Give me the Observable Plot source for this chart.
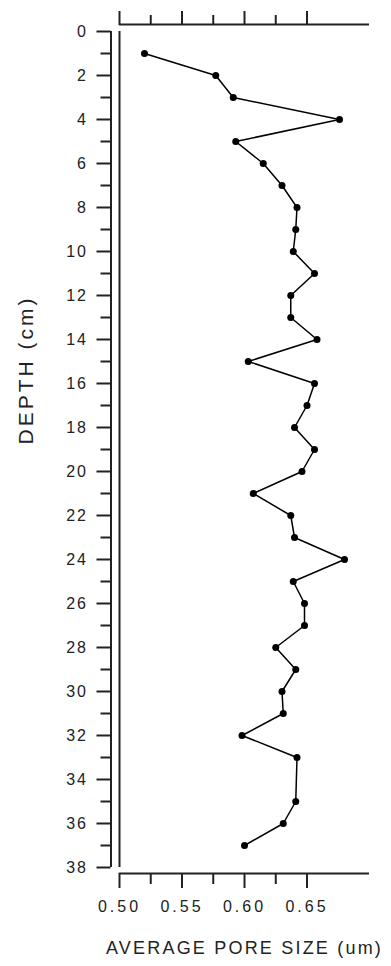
<!DOCTYPE html>
<html><head><meta charset="utf-8">
<script src="https://cdn.jsdelivr.net/npm/d3@7"></script>
<script src="https://cdn.jsdelivr.net/npm/@observablehq/plot@0.6"></script>
<style>
body{margin:0;background:#fff}
g[aria-label="x-axis tick label"]{letter-spacing:3px}
g[aria-label="y-axis tick label"]{letter-spacing:2px}
</style></head><body><div id="chart"></div>
<script>
// Data
const depth = [1,2,3,4,5,6,7,8,9,10,11,12,13,14,15,16,17,18,19,20,21,22,23,24,25,26,27,28,29,30,31,32,33,35,36,37];
const poreSize = [0.520,0.577,0.591,0.676,0.593,0.615,0.630,0.642,0.641,0.639,0.656,0.637,0.637,0.658,0.603,0.656,0.650,0.640,0.656,0.646,0.607,0.637,0.640,0.680,0.639,0.648,0.648,0.625,0.641,0.630,0.631,0.598,0.642,0.641,0.631,0.600];
const yMajorTicks = [0,2,4,6,8,10,12,14,16,18,20,22,24,26,28,30,32,34,36,38];
const yMinorTicks = [1,3,5,7,9,11,13,15,17,19,21,23,25,27,29,31,33,35,37];
const xMajorTicks = [0.50,0.55,0.60,0.65];
const xMinorTicks = [0.525,0.575,0.625];
const xDomain = [0.50,0.70];
const yDomain = [0,38];
const xTitle = "AVERAGE PORE SIZE (um)";
const yTitle = "DEPTH (cm)";

const data = depth.map((d,i)=>({depth:d, size:poreSize[i]}));
const ax = "#222";
const tx = "#222";

const chart = Plot.plot({
  width: 391, height: 966,
  marginLeft: 119, marginRight: 22, marginTop: 31, marginBottom: 99,
  style: {fontFamily: "'Liberation Sans', Arial, sans-serif", color: tx, background: "#fff"},
  x: {domain: xDomain},
  y: {domain: yDomain, reverse: true},
  marks: [
    Plot.ruleX([xDomain[0]], {y1: yDomain[0], y2: yDomain[1], stroke: ax, strokeWidth: 2}),
    Plot.ruleX([xDomain[0]], {y1: yDomain[0], y2: yDomain[1], dx: -8.5, stroke: ax, strokeWidth: 2}),
    Plot.ruleY([yDomain[1]], {x1: xDomain[0], x2: xDomain[1], dy: 6, stroke: ax, strokeWidth: 2}),
    Plot.ruleY([yDomain[0]], {x1: xDomain[0], x2: xDomain[1], dy: -7, stroke: ax, strokeWidth: 2}),
    Plot.axisY({ticks: yMajorTicks, tickSize: 14, tickPadding: 9, dx: -8.5, fontSize: 16, label: null, tickFormat: d => String(d), stroke: ax, strokeWidth: 2, fill: tx}),
    Plot.axisY({ticks: yMinorTicks, tickSize: 10, text: null, dx: -8.5, label: null, stroke: ax, strokeWidth: 2}),
    Plot.axisX({anchor: "bottom", ticks: xMajorTicks, tickSize: 15, tickPadding: 12, dy: 6, fontSize: 16, label: null, tickFormat: d3.format(".2f"), stroke: ax, strokeWidth: 2, fill: tx}),
    Plot.axisX({anchor: "bottom", ticks: xMinorTicks, tickSize: 11, text: null, dy: 6, label: null, stroke: ax, strokeWidth: 2}),
    Plot.axisX({anchor: "top", ticks: xMajorTicks, tickSize: 14, text: null, dy: -7, label: null, stroke: ax, strokeWidth: 2}),
    Plot.axisX({anchor: "top", ticks: xMinorTicks, tickSize: 10, text: null, dy: -7, label: null, stroke: ax, strokeWidth: 2}),
    Plot.line(data, {x: "size", y: "depth", stroke: "#000", strokeWidth: 1.5}),
    Plot.dot(data, {x: "size", y: "depth", r: 3.5, fill: "#000", stroke: "none"}),
    Plot.text([yTitle], {text: d => d, frameAnchor: "left", dx: -93, dy: -5, rotate: -90, fontSize: 21, fill: tx}),
    Plot.text([xTitle], {text: d => d, frameAnchor: "bottom", dy: 86, fontSize: 18, fill: tx})
  ]
});
document.getElementById("chart").appendChild(chart);
d3.select(chart).selectAll("text").each(function(){
  const t = this.textContent;
  if (t === yTitle) this.style.letterSpacing = "3px";
  if (t === xTitle) this.style.letterSpacing = "2.2px";
});
</script>
</body></html>
